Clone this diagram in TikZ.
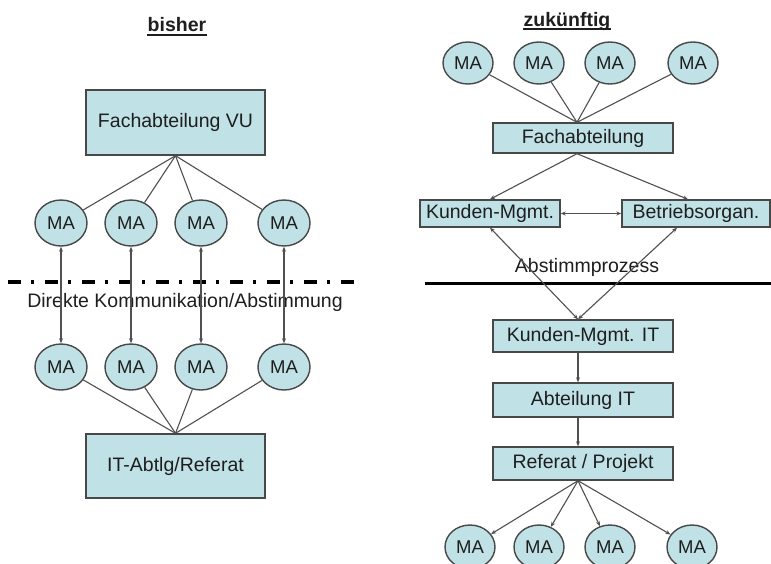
\documentclass[tikz,border=0pt]{standalone}
\usepackage{fontspec}
\setmainfont{Liberation Sans}
\usetikzlibrary{shapes.geometric,arrows.meta}
\definecolor{boxfill}{RGB}{192,226,230}
\definecolor{boxline}{RGB}{72,72,72}
\definecolor{wirecol}{RGB}{80,80,80}
\definecolor{textcol}{RGB}{30,30,30}

\begin{document}
\begin{tikzpicture}[x=1pt,y=-1pt,
	box/.style={draw=boxline,line width=1.4pt,fill=boxfill,inner sep=0pt,text=textcol,font=\fontsize{19.5}{23}\selectfont},
	ma/.style={ellipse,draw=boxline,line width=1.4pt,fill=boxfill,inner sep=0pt,minimum width=52pt,minimum height=46pt,text=textcol,font=\fontsize{18.5}{22}\selectfont},
	wire/.style={draw=wirecol,line width=1.1pt},
	arr/.style={wire,-{Stealth[length=5pt,width=4pt]}},
	darr/.style={wire,{Stealth[length=5pt,width=4pt]}-{Stealth[length=5pt,width=4pt]}},
	heading/.style={text=textcol,font=\bfseries\fontsize{19.5}{23}\selectfont},
	note/.style={text=textcol,font=\fontsize{19.5}{23}\selectfont},
	sepdash/.style={line width=3.5pt,dash pattern=on 13pt off 10pt on 3pt off 11pt},
	sepline/.style={line width=3pt}]
	\useasboundingbox[fill=white] (0,0) rectangle (771,563);
	% Left half: bisher
	\node[heading] (tBisher) at (177,25){bisher};
	\draw[line width=1.6pt,textcol] ([xshift=3pt,yshift=-3pt]tBisher.base west) -- ([xshift=-3pt,yshift=-3pt]tBisher.base east);
	\node[box,minimum width=179pt,minimum height=65pt] (fachVU) at (175.5,122.5){Fachabteilung VU};
	\node[ma] (maA1) at (61,223){MA};
	\node[ma] (maA2) at (131,223){MA};
	\node[ma] (maA3) at (201,223){MA};
	\node[ma] (maA4) at (284,223){MA};
	\node[ma] (maB1) at (61,367){MA};
	\node[ma] (maB2) at (131,367){MA};
	\node[ma] (maB3) at (201,367){MA};
	\node[ma] (maB4) at (284,367){MA};
	\node[box,minimum width=179pt,minimum height=64pt] (itRef) at (175.5,466){IT-Abtlg/Referat};
	\coordinate (sepL1) at (8,282);
	\coordinate (sepL2) at (358,282);
	\draw[sepdash] (sepL1) -- (sepL2);
	\node[note] (direkt) at (185,302){Direkte Kommunikation/Abstimmung};
	\draw[wire] (fachVU.south) -- (maA1);
	\draw[wire] (fachVU.south) -- (maA2);
	\draw[wire] (fachVU.south) -- (maA3);
	\draw[wire] (fachVU.south) -- (maA4);
	\draw[darr] (maA1) -- (maB1);
	\draw[darr] (maA2) -- (maB2);
	\draw[darr] (maA3) -- (maB3);
	\draw[darr] (maA4) -- (maB4);
	\draw[wire] (itRef.north) -- (maB1);
	\draw[wire] (itRef.north) -- (maB2);
	\draw[wire] (itRef.north) -- (maB3);
	\draw[wire] (itRef.north) -- (maB4);
	% Right half: zukuenftig
	\node[heading] (tZuk) at (567,21){zukünftig};
	\draw[line width=1.6pt,textcol] ([xshift=3pt,yshift=-3pt]tZuk.base west) -- ([xshift=-3pt,yshift=-3pt]tZuk.base east);
	\node[ma,minimum width=50pt,minimum height=42pt] (maC1) at (468,63){MA};
	\node[ma,minimum width=50pt,minimum height=42pt] (maC2) at (539,63){MA};
	\node[ma,minimum width=50pt,minimum height=42pt] (maC3) at (610,63){MA};
	\node[ma,minimum width=50pt,minimum height=42pt] (maC4) at (693,63){MA};
	\node[box,minimum width=180pt,minimum height=30pt] (fach) at (583,138){Fachabteilung};
	\node[box,minimum width=140pt,minimum height=27pt] (kunden) at (490,213.5){Kunden-Mgmt.};
	\node[box,minimum width=148pt,minimum height=27pt] (betrieb) at (696,213.5){Betriebsorgan.};
	\node[note] (abstimm) at (587,267){Abstimmprozess};
	\coordinate (sepR1) at (425,283);
	\coordinate (sepR2) at (771,283);
	\draw[sepline] (sepR1) -- (sepR2);
	\node[box,minimum width=180pt,minimum height=32pt] (kundenIT) at (583,336){Kunden-Mgmt. IT};
	\node[box,minimum width=180pt,minimum height=34pt] (abtIT) at (583,400){Abteilung IT};
	\node[box,minimum width=180pt,minimum height=33pt] (referat) at (583,463.5){Referat / Projekt};
	\node[ma,minimum width=50pt,minimum height=44pt] (maD1) at (470,547){MA};
	\node[ma,minimum width=50pt,minimum height=44pt] (maD2) at (539,547){MA};
	\node[ma,minimum width=50pt,minimum height=44pt] (maD3) at (610,547){MA};
	\node[ma,minimum width=50pt,minimum height=44pt] (maD4) at (692,547){MA};
	\draw[wire] (maC1) -- ([xshift=-6pt]fach.north);
	\draw[wire] (maC2) -- ([xshift=-6pt]fach.north);
	\draw[wire] (maC3) -- ([xshift=-6pt]fach.north);
	\draw[wire] (maC4) -- ([xshift=-6pt]fach.north);
	\draw[arr] ([xshift=-6pt]fach.south) -- (kunden.north);
	\draw[arr] ([xshift=-6pt]fach.south) -- ([xshift=-8pt]betrieb.north);
	\draw[darr] (kunden.east) -- (betrieb.west);
	\draw[darr] ([xshift=-5pt]kundenIT.north) -- (kunden.south);
	\draw[darr] ([xshift=-5pt]kundenIT.north) -- ([xshift=-19pt]betrieb.south);
	\draw[arr] ([xshift=-5pt]kundenIT.south) -- ([xshift=-5pt]abtIT.north);
	\draw[arr] ([xshift=-5pt]abtIT.south) -- ([xshift=-5pt]referat.north);
	\draw[arr] ([xshift=-5pt]referat.south) -- (maD1);
	\draw[arr] ([xshift=-5pt]referat.south) -- (maD2);
	\draw[arr] ([xshift=-5pt]referat.south) -- (maD3);
	\draw[arr] ([xshift=-5pt]referat.south) -- (maD4);
\end{tikzpicture}
\end{document}
